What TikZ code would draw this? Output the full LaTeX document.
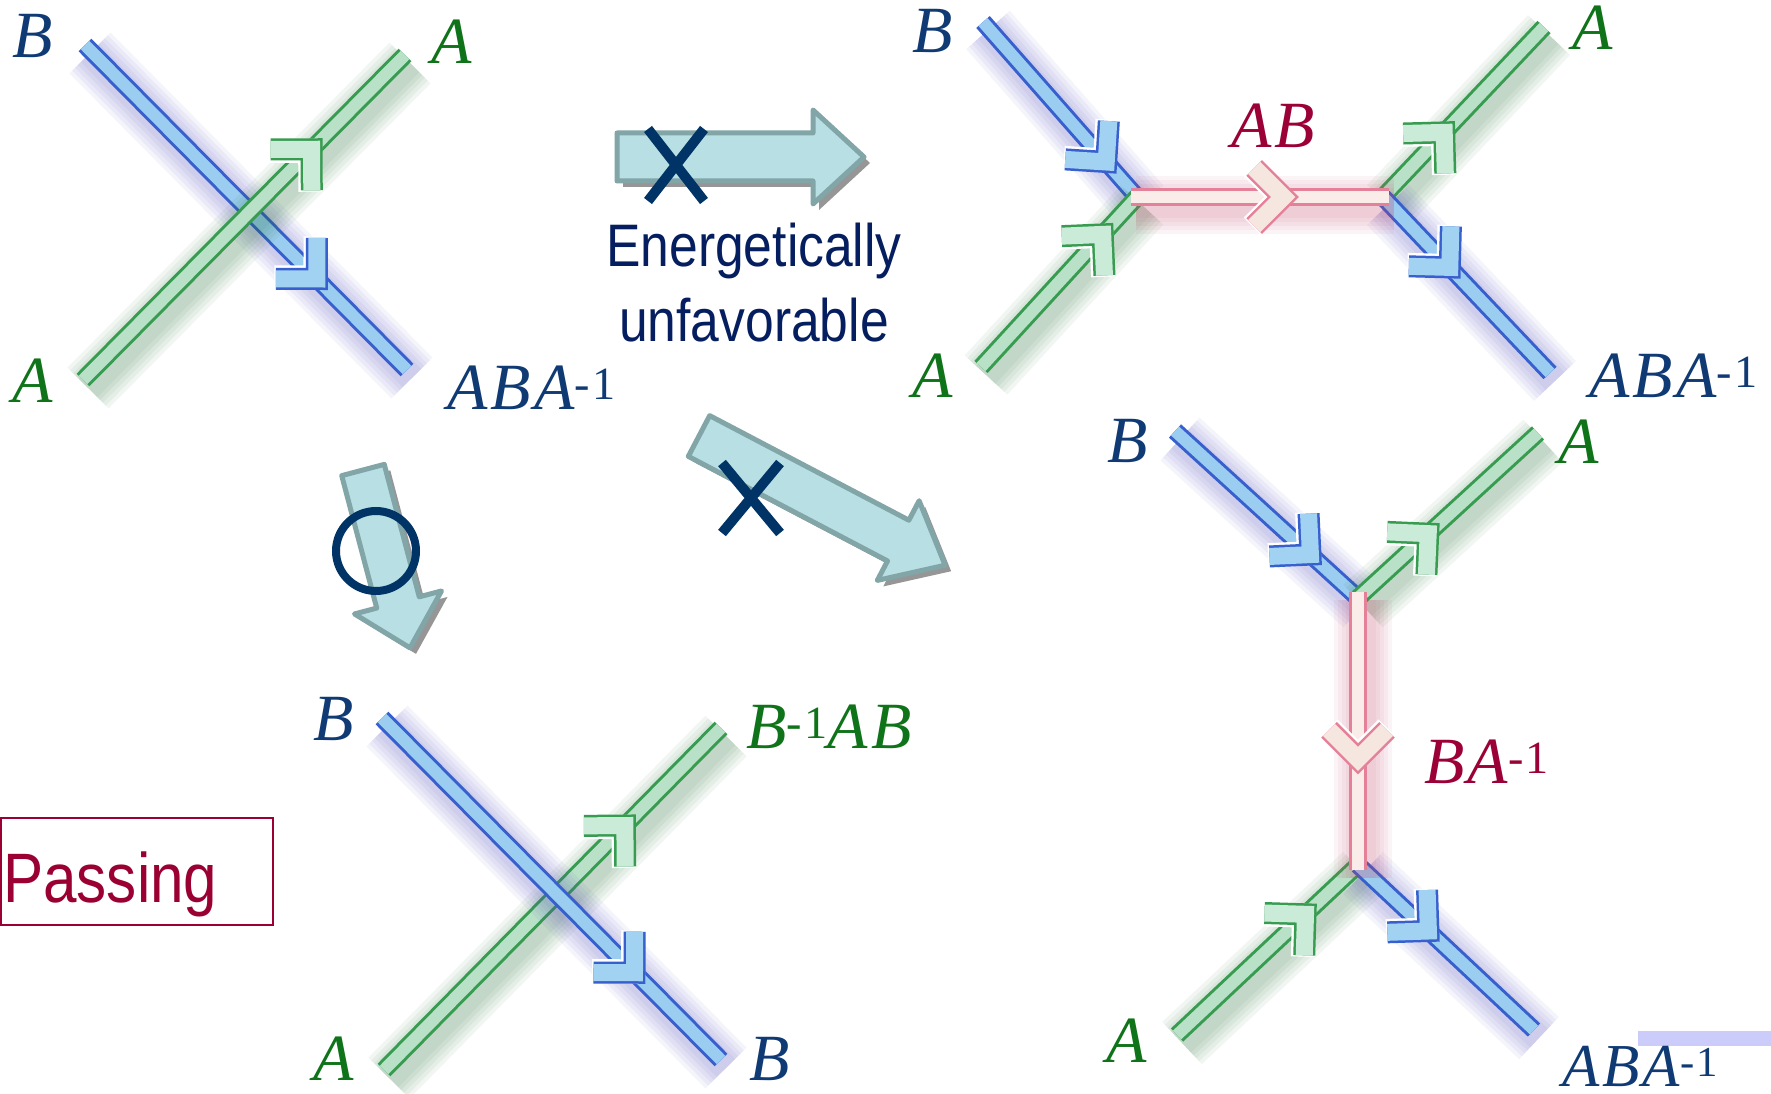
\documentclass[tikz,border=0pt]{standalone}
\usepackage{fontspec}
\setmainfont{Liberation Serif}
\newfontfamily\labelfont[LetterSpace=5]{Liberation Serif}
\newfontfamily\narrowsans[FakeStretch=0.86]{Liberation Sans}
\usetikzlibrary{decorations.markings,shapes.misc}

% tube colours: E edge, C core, G glow, H chevron
\definecolor{bE}{RGB}{55,95,205}
\definecolor{bC}{RGB}{155,205,240}
\definecolor{bG}{RGB}{80,70,190}
\definecolor{bH}{RGB}{162,210,242}
\definecolor{gE}{RGB}{55,155,80}
\definecolor{gC}{RGB}{185,225,200}
\definecolor{gG}{RGB}{30,110,50}
\definecolor{gH}{RGB}{202,235,216}
\definecolor{rE}{RGB}{228,128,152}
\definecolor{rC}{RGB}{250,236,232}
\definecolor{rG}{RGB}{200,70,110}
\definecolor{rH}{RGB}{246,230,224}
% text and marks
\definecolor{labB}{RGB}{16,58,115}
\definecolor{labA}{RGB}{15,115,25}
\definecolor{labR}{RGB}{155,0,55}
\definecolor{navytext}{RGB}{5,30,95}
\definecolor{markc}{RGB}{0,52,102}
\definecolor{arrfill}{RGB}{184,223,227}
\definecolor{arrline}{RGB}{130,165,168}
\definecolor{arrshadow}{RGB}{150,150,150}
\definecolor{crimson}{RGB}{155,0,51}
\definecolor{lavbar}{RGB}{204,204,250}

\begin{document}
\begin{tikzpicture}[
    x=1pt, y=-1pt,
    lbl/.style={inner sep=0pt, anchor=base, font=\fontsize{66}{70}\selectfont\labelfont\itshape},
    lblue/.style={lbl, text=labB},
    lgreen/.style={lbl, text=labA},
    lred/.style={lbl, text=labR},
    sidetext/.style={inner sep=0pt, anchor=base, text=navytext, font=\fontsize{60}{72}\selectfont\narrowsans},
    xmark/.style={cross out, draw=markc, line width=10pt, inner sep=0pt},
    blockarrow/.style={fill=arrfill, draw=arrline, line width=5pt, line join=round},
    blockshadow/.style={fill=arrshadow}
]
\fill[white] (0,0) rectangle (1771,1094);
\useasboundingbox (0,0) rectangle (1771,1094);
\fill[lavbar] (1638,1031) rectangle (1771,1046);

% --- Tube end points ---
\coordinate (xB) at (85,45);    \coordinate (xC) at (407,370);
\coordinate (xA) at (83,380);   \coordinate (xD) at (405,55);
\coordinate (hB) at (983,22);   \coordinate (hL) at (1137,197);
\coordinate (hA) at (981,367);  \coordinate (hR) at (1383,197);
\coordinate (hD) at (1544,27);  \coordinate (hC) at (1550,373);
\coordinate (hP) at (1131,197); \coordinate (hQ) at (1389,197);
\coordinate (vB) at (1175,431); \coordinate (vT) at (1358,598);
\coordinate (vD) at (1538,433); \coordinate (vA) at (1177,1035);
\coordinate (vU) at (1358,865); \coordinate (vC) at (1534,1030);
\coordinate (vP) at (1358,592); \coordinate (vQ) at (1358,870);
\coordinate (sB) at (382,718);  \coordinate (sC) at (721,1060);
\coordinate (sA) at (384,1070); \coordinate (sD) at (721,728);

% --- Tubes: glow, edge, core, chevron ---
\foreach \s/\t/\col/\p in {xB/xC/b/0.72, xA/xD/g/0.71,
    hB/hL/b/0.80, hA/hL/g/0.78, hR/hD/g/0.38, hR/hC/b/0.40, hP/hQ/r/0.59,
    vB/vT/b/0.74, vT/vD/g/0.39, vA/vU/g/0.71, vU/vC/b/0.40, vP/vQ/r/0.60,
    sA/sD/g/0.715, sB/sC/b/0.745} {
    \foreach \w in {58,50,42,34,26}
        \draw[draw=\col G, line width=\w pt, opacity=0.06] ([shift={(5,8)}]\s) -- ([shift={(5,8)}]\t);
    \draw[draw=\col E, line width=18pt] (\s) -- (\t);
    \draw[draw=\col C, line width=12pt] (\s) -- (\t);
    \path[decorate, decoration={markings, mark=at position \p with {
        \draw[draw=white, line width=24pt, shift={(-2,0)}] (-29,29) -- (0,0) -- (-29,-29);
        \draw[draw=\col E, line width=22pt] (-29,29) -- (0,0) -- (-29,-29);
        \draw[draw=\col H, line width=17pt] (-29,29) -- (0,0) -- (-29,-29);}}] (\s) -- (\t);
}

% --- Block arrows ---
\foreach \x/\y/\r/\L/\w/\h/\k in {617/157/0/247/24/47/51, 699/436/-27.7/278/23/45/53, 363/470/-75.2/184/22/45/47} {
    \fill[blockshadow, shift={(\x+6,\y+6)}, rotate=\r] (0,-\w) -- (\L-\k,-\w) -- (\L-\k,-\h) -- (\L,0) -- (\L-\k,\h) -- (\L-\k,\w) -- (0,\w) -- cycle;
    \draw[blockarrow, shift={(\x,\y)}, rotate=\r] (0,-\w) -- (\L-\k,-\w) -- (\L-\k,-\h) -- (\L,0) -- (\L-\k,\h) -- (\L-\k,\w) -- (0,\w) -- cycle;
}
\node[xmark, minimum width=46pt, minimum height=62pt] (nox1) at (676,165) {};
\node[xmark, minimum width=48pt, minimum height=60pt] (nox2) at (751,498) {};
\node[circle, draw=markc, line width=8pt, minimum size=80pt, inner sep=0pt] (okmark) at (376,551) {};

% --- Labels ---
\node[lblue] (xBl) at (33,58) {B};
\node[lgreen] (xDl) at (452,64) {A};
\node[lgreen] (xAl) at (33,402) {A};
\node[lblue, anchor=base west] (xCl) at (447,409) {ABA\textsuperscript{\upshape -1}};
\node[lblue] (hBl) at (933,53) {B};
\node[lgreen] (hDl) at (1593,50) {A};
\node[lred] (hPl) at (1273,148) {AB};
\node[lgreen] (hAl) at (933,397) {A};
\node[lblue, anchor=base west] (hCl) at (1589,397) {ABA\textsuperscript{\upshape -1}};
\node[lblue] (vBl) at (1128,462) {B};
\node[lgreen] (vDl) at (1579,463) {A};
\node[lred, anchor=base west] (vPl) at (1424,783) {BA\textsuperscript{\upshape -1}};
\node[lgreen] (vAl) at (1127,1062) {A};
\node[lblue, anchor=base west, font=\fontsize{61}{66}\selectfont\labelfont\itshape] (vCl) at (1562,1086) {ABA\textsuperscript{\upshape -1}};
\node[lblue] (sBl) at (334,740) {B};
\node[lgreen, anchor=base west] (sDl) at (746,748) {B\textsuperscript{\upshape -1}AB};
\node[lgreen] (sAl) at (334,1080) {A};
\node[lblue] (sCl) at (770,1080) {B};

% --- Side texts ---
\node[sidetext] (energ) at (754,266) {Energetically};
\node[sidetext] (unfav) at (754,341) {unfavorable};
\node[draw=crimson, line width=2pt, minimum width=272pt, minimum height=107pt, inner sep=0pt] (passbox) at (137,871) {};
\node[anchor=base west, inner sep=0pt, text=crimson, font=\fontsize{70}{80}\selectfont\narrowsans] (passing) at (3,902) {Passing};
\end{tikzpicture}
\end{document}
